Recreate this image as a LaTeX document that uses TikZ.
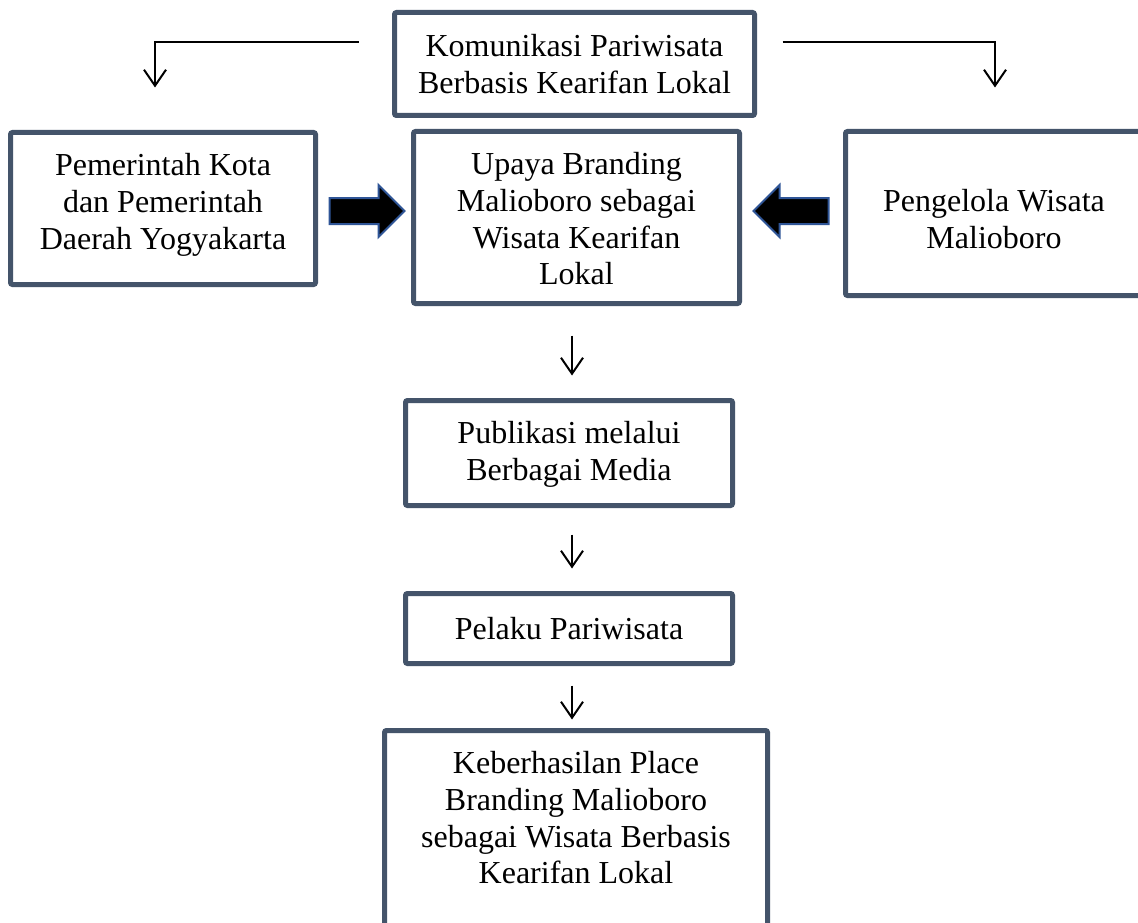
\documentclass[tikz,border=0pt]{standalone}
\usepackage{fontspec}
\setmainfont{Liberation Serif}
\usetikzlibrary{arrows.meta,shapes.arrows,calc}
\definecolor{boxline}{HTML}{44546A}
\definecolor{arrowedge}{HTML}{2F5597}
\begin{document}
\begin{tikzpicture}[x=1pt,y=-1pt,
  box/.style={rectangle, draw=boxline, line width=5pt, rounded corners=2pt, inner sep=0pt},
  boxtext/.style={anchor=north, align=center, inner sep=0pt,
    font=\fontsize{32pt}{36.8pt}\selectfont, execute at begin node=\strut},
  thinarrow/.style={draw=black, line width=2pt, -{Straight Barb[length=16pt,width=22pt]}},
  blockarrow/.style={single arrow, fill=black, draw=arrowedge, line width=2pt,
    minimum height=75pt, inner xsep=0pt, inner ysep=12pt, single arrow head extend=13pt}]
\useasboundingbox (0,0) rectangle (1138,923);
\clip (0,0) rectangle (1138,923);
\fill[white] (0,0) rectangle (1138,923);

% frames
\node[box, minimum width=360pt, minimum height=103pt] (komunikasi) at (574.5,64) {};
\node[box, minimum width=305pt, minimum height=152pt] (pemerintah) at (163,208.5) {};
\node[box, minimum width=326pt, minimum height=172pt] (upaya) at (576.5,217.5) {};
\node[box, minimum width=297pt, minimum height=164pt] (pengelola) at (994,213.5) {};
\node[box, minimum width=327pt, minimum height=105pt] (publikasi) at (569,453) {};
\node[box, minimum width=327pt, minimum height=70pt] (pelaku) at (569,628.5) {};
\node[box, minimum width=383pt, minimum height=219.5pt] (keberhasilan) at (576,840.25) {};

% texts inside the frames
\node[boxtext] (komunikasiText) at ([yshift=-24pt]komunikasi.north)
  {Komunikasi Pariwisata\\Berbasis Kearifan Lokal};
\node[boxtext] (pemerintahText) at ([yshift=-23pt]pemerintah.north)
  {Pemerintah Kota\\dan Pemerintah\\Daerah Yogyakarta};
\node[boxtext] (upayaText) at ([yshift=-23pt]upaya.north)
  {Upaya Branding\\Malioboro sebagai\\Wisata Kearifan\\Lokal};
\node[boxtext] (pengelolaText) at ([yshift=-60pt]pengelola.north)
  {Pengelola Wisata\\Malioboro};
\node[boxtext] (publikasiText) at ([yshift=-23pt]publikasi.north)
  {Publikasi melalui\\Berbagai Media};
\node[boxtext] (pelakuText) at ([yshift=-23pt]pelaku.north)
  {Pelaku Pariwisata};
\node[boxtext] (keberhasilanText) at ([yshift=-23pt]keberhasilan.north)
  {Keberhasilan Place\\Branding Malioboro\\sebagai Wisata Berbasis\\Kearifan Lokal};

% block arrows into the central frame
\node[blockarrow] (arrowLeft) at (360.5,211) {};
\node[blockarrow, shape border rotate=180] (arrowRight) at (797.5,211) {};

% thin connectors
\draw[thinarrow] ([xshift=-33.5pt,yshift=22pt]komunikasi.west) -| ([xshift=-8pt,yshift=42.5pt]pemerintah.north);
\draw[thinarrow] ([xshift=25.5pt,yshift=22pt]komunikasi.east) -| ([xshift=1pt,yshift=41.5pt]pengelola.north);

\coordinate (axis) at (572,0);
\draw[thinarrow, shorten <=29.5pt, shorten >=22.5pt] (upaya.south -| axis) -- (publikasi.north -| axis);
\draw[thinarrow, shorten <=26.5pt, shorten >=22.5pt] (publikasi.south -| axis) -- (pelaku.north -| axis);
\draw[thinarrow, shorten <=19.5pt, shorten >=8.5pt] (pelaku.south -| axis) -- (keberhasilan.north -| axis);
\end{tikzpicture}
\end{document}
